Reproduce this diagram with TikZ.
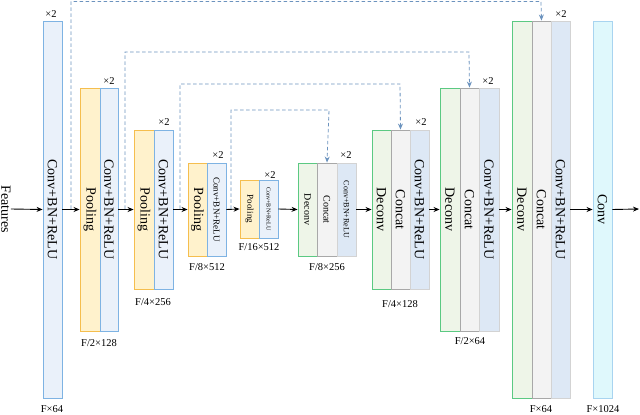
\documentclass[tikz,border=0pt]{standalone}
\usepackage{fontspec}
\setmainfont{Liberation Serif}
\usetikzlibrary{arrows.meta}
\definecolor{poolF}{HTML}{FFF2CC}\definecolor{poolD}{HTML}{F5BE4E}
\definecolor{convF}{HTML}{EAF1FA}\definecolor{convD}{HTML}{7EB3E3}
\definecolor{decF}{HTML}{EEF5E8}\definecolor{decD}{HTML}{5BC982}
\definecolor{catF}{HTML}{F3F3F3}\definecolor{catD}{HTML}{A8A8A8}
\definecolor{dcF}{HTML}{DDE8F5}\definecolor{dcD}{HTML}{D3D3D3}
\definecolor{fF}{HTML}{DFF8FC}\definecolor{fD}{HTML}{A8D4F0}
\definecolor{skipC}{HTML}{6C93BE}
\tikzset{
 box/.style={rectangle,rotate=-90,inner sep=0pt,line width=0.9pt,font=\fontsize{14}{14}\selectfont},
 pool/.style={box,fill=poolF,draw=poolD},
 conv/.style={box,fill=convF,draw=convD},
 dec/.style={box,fill=decF,draw=decD},
 cat/.style={box,fill=catF,draw=catD},
 dconv/.style={box,fill=dcF,draw=dcD},
 fconv/.style={box,fill=fF,draw=fD},
 lab/.style={font=\fontsize{10.5}{10.5}\selectfont,inner sep=0pt},
 arr/.style={-{Stealth[length=6pt,width=5pt]},line width=0.9pt},
 skip/.style={-{Stealth[length=6pt,width=5pt]},draw=skipC,line width=0.8pt,dash pattern=on 3.5pt off 2.5pt}
}
\newcommand{\blk}[8]{\node[#2,minimum width={(#6-#5)*1pt},minimum height={(#4-#3)*1pt},#8] (#1) at ({(#3+#4)/2},{415-(#5+#6)/2}) {#7};}
\begin{document}
\begin{tikzpicture}[x=1pt,y=1pt]
\useasboundingbox (0,0) rectangle (640,415);
\node[rotate=-90,font=\fontsize{14}{14}\selectfont,inner sep=0pt] (feat) at (6,206) {Features};
\blk{c1}{conv}{43}{62}{21}{398}{Conv+BN+ReLU}{}
\blk{p1}{pool}{80}{100}{88}{331}{Pooling}{}
\blk{c2}{conv}{100}{118}{88}{331}{Conv+BN+ReLU}{}
\blk{p2}{pool}{134}{154}{130}{289}{Pooling}{}
\blk{c3}{conv}{154}{173}{130}{289}{Conv+BN+ReLU}{}
\blk{p3}{pool}{188}{207}{163}{256}{Pooling}{}
\blk{c4}{conv}{207}{226}{163}{256}{Conv+BN+ReLU}{font=\fontsize{9}{9}\selectfont}
\blk{p4}{pool}{240}{259}{180}{238}{Pooling}{font=\fontsize{9}{9}\selectfont}
\blk{c5}{conv}{259}{278}{180}{238}{Conv+BN+ReLU}{font=\fontsize{6}{6}\selectfont}
\blk{d1}{dec}{298}{317}{163}{256}{Deconv}{font=\fontsize{10}{10}\selectfont}
\blk{k1}{cat}{317}{337}{163}{256}{Concat}{font=\fontsize{10}{10}\selectfont}
\blk{e1}{dconv}{337}{356}{163}{256}{Conv+BN+ReLU}{font=\fontsize{8}{8}\selectfont}
\blk{d2}{dec}{372}{391}{130}{289}{Deconv}{}
\blk{k2}{cat}{391}{410}{130}{289}{Concat}{}
\blk{e2}{dconv}{410}{429}{130}{289}{Conv+BN+ReLU}{}
\blk{d3}{dec}{440}{460}{88}{331}{Deconv}{}
\blk{k3}{cat}{460}{479}{88}{331}{Concat}{}
\blk{e3}{dconv}{479}{499}{88}{331}{Conv+BN+ReLU}{}
\blk{d4}{dec}{512}{532}{21}{398}{Deconv}{}
\blk{k4}{cat}{532}{551}{21}{398}{Concat}{}
\blk{e4}{dconv}{551}{570}{21}{398}{Conv+BN+ReLU}{}
\blk{f}{fconv}{593}{612}{21}{398}{Conv}{}
\coordinate (out) at (639,206);
\draw[arr] (feat.north) -- (c1.south);
\draw[arr] (c1.north) -- (p1.south);
\draw[arr] (c2.north) -- (p2.south);
\draw[arr] (c3.north) -- (p3.south);
\draw[arr] (c4.north) -- (p4.south);
\draw[arr] (c5.north) -- (d1.south);
\draw[arr] (e1.north) -- (d2.south);
\draw[arr] (e2.north) -- (d3.south);
\draw[arr] (e3.north) -- (d4.south);
\draw[arr] (e4.north) -- (f.south);
\draw[arr] (f.north) -- (out);
\coordinate (s1) at (71,206);
\coordinate (s2) at (125,206);
\coordinate (s3) at (180,206);
\coordinate (s4) at (231,206);
\draw[skip] (s1) -- (71,413.5) -- (541,413.5) -- (k4.west);
\draw[skip] (s2) -- (125,363) -- (469,363) -- (k3.west);
\draw[skip] (s3) -- (180,331) -- (400,331) -- (k2.west);
\draw[skip] (s4) -- (231,305) -- (329,305) -- (k1.west);
\node[lab] (x1) at (51,401) {×2};
\node[lab] (x2) at (109,334) {×2};
\node[lab] (x3) at (164,293) {×2};
\node[lab] (x4) at (218,260) {×2};
\node[lab] (x5) at (270,240) {×2};
\node[lab] (x6) at (346,260) {×2};
\node[lab] (x7) at (421,293) {×2};
\node[lab] (x8) at (488,334) {×2};
\node[lab] (x9) at (561,401) {×2};
\node[lab] (l1) at (52,6) {F×64};
\node[lab] (l2) at (99,72) {F/2×128};
\node[lab] (l3) at (153,113) {F/4×256};
\node[lab] (l4) at (207,148) {F/8×512};
\node[lab] (l5) at (259,168) {F/16×512};
\node[lab] (l6) at (327,148) {F/8×256};
\node[lab] (l7) at (400,111) {F/4×128};
\node[lab] (l8) at (470,74) {F/2×64};
\node[lab] (l9) at (541,6) {F×64};
\node[lab] (l10) at (603,6) {F×1024};
\end{tikzpicture}
\end{document}
